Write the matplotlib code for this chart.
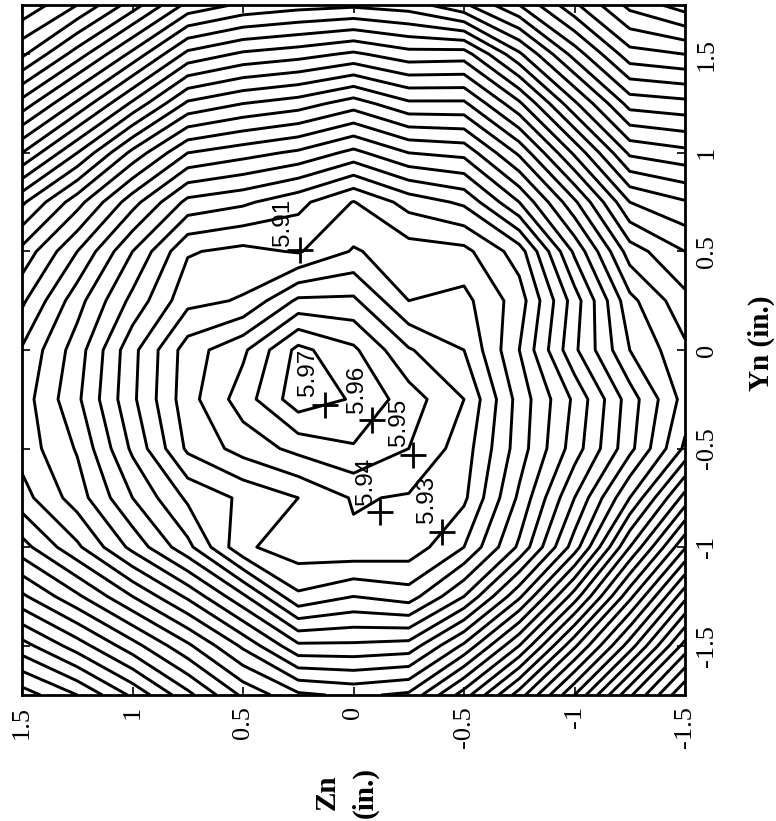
import numpy as np
import matplotlib
matplotlib.use("Agg")
from matplotlib import pyplot as plt

# grid: columns are Zn (left to right), rows are Yn (top to bottom)
zn = [1.5, 1.25, 1.0, 0.75, 0.5, 0.25, 0.0, -0.25, -0.5, -0.75, -1.0, -1.25, -1.5]
yn = [1.75, 1.5, 1.25, 1.0, 0.75, 0.5, 0.25, 0.0, -0.25, -0.5, -0.75, -1.0, -1.25, -1.5, -1.75]

val = [
    [5.662, 5.680, 5.705, 5.733, 5.742, 5.746, 5.748, 5.745, 5.732, 5.710, 5.682, 5.657, 5.645],
    [5.688, 5.715, 5.743, 5.773, 5.782, 5.786, 5.792, 5.784, 5.785, 5.752, 5.716, 5.684, 5.680],
    [5.724, 5.752, 5.782, 5.812, 5.820, 5.825, 5.835, 5.822, 5.822, 5.792, 5.752, 5.716, 5.713],
    [5.760, 5.790, 5.823, 5.850, 5.856, 5.862, 5.873, 5.860, 5.857, 5.828, 5.788, 5.748, 5.743],
    [5.798, 5.826, 5.856, 5.883, 5.888, 5.897, 5.9105, 5.896, 5.888, 5.860, 5.822, 5.780, 5.771],
    [5.823, 5.850, 5.880, 5.909, 5.913, 5.909, 5.921, 5.915, 5.913, 5.895, 5.848, 5.805, 5.790],
    [5.838, 5.866, 5.893, 5.917, 5.921, 5.942, 5.942, 5.920, 5.923, 5.905, 5.865, 5.823, 5.803],
    [5.851, 5.875, 5.907, 5.935, 5.948, 5.973, 5.962, 5.941, 5.930, 5.900, 5.862, 5.830, 5.812],
    [5.855, 5.878, 5.908, 5.936, 5.955, 5.976, 5.969, 5.955, 5.940, 5.906, 5.878, 5.845, 5.816],
    [5.854, 5.871, 5.902, 5.932, 5.944, 5.953, 5.959, 5.950, 5.935, 5.905, 5.875, 5.843, 5.808],
    [5.846, 5.865, 5.890, 5.912, 5.922, 5.930, 5.941, 5.939, 5.932, 5.898, 5.860, 5.820, 5.776],
    [5.826, 5.848, 5.873, 5.897, 5.928, 5.936, 5.938, 5.936, 5.920, 5.888, 5.845, 5.790, 5.741],
    [5.798, 5.818, 5.840, 5.862, 5.888, 5.918, 5.910, 5.915, 5.890, 5.852, 5.805, 5.753, 5.703],
    [5.766, 5.785, 5.806, 5.828, 5.852, 5.878, 5.878, 5.876, 5.848, 5.810, 5.762, 5.715, 5.666],
    [5.735, 5.750, 5.772, 5.797, 5.822, 5.838, 5.842, 5.838, 5.805, 5.765, 5.720, 5.672, 5.630],
]

levels = np.round(np.arange(563, 598) / 100, 2)

# clabel-style labels: text, "+" point (Zn, Yn), text centre (Zn, Yn)
lab_text = ["5.91", "5.97", "5.96", "5.95", "5.94", "5.93"]
lab_plus = [(0.242, 0.507), (0.129, -0.279), (-0.084, -0.355),
            (-0.269, -0.532), (-0.120, -0.822), (-0.401, -0.923)]
lab_pos = [(0.318, 0.645), (0.208, -0.112), (-0.018, -0.198),
           (-0.204, -0.365), (-0.055, -0.668), (-0.331, -0.756)]

ticks = [-1.5, -1.0, -0.5, 0.0, 0.5, 1.0, 1.5]
tick_labels = ["-1.5", "-1", "-0.5", "0", "0.5", "1", "1.5"]

serif = "Liberation Serif"

fig = plt.figure(figsize=(7.76, 8.21), dpi=100)
ax = fig.add_axes([22 / 776, 1 - 695 / 821, 663 / 776, 690 / 821])

ax.contour(zn, yn, np.array(val), levels=levels, colors="k",
           linewidths=2.1, linestyles="solid")

for txt, (px, py), (tx, ty) in zip(lab_text, lab_plus, lab_pos):
    ax.plot(px, py, marker="+", color="k", markersize=19, mew=2.0)
    ax.text(tx, ty, txt, rotation=90, ha="center", va="center",
            fontsize=17.5, family="Liberation Sans")

ax.set_xlim(1.5, -1.5)
ax.set_ylim(-1.75, 1.75)

ax.set_xticks(ticks)
ax.set_xticklabels(tick_labels, rotation=90, family=serif, fontsize=19)
ax.set_yticks(ticks)
ax.set_yticklabels(tick_labels, rotation=90, family=serif, fontsize=19,
                   va="center")
ax.yaxis.tick_right()
ax.tick_params(direction="in", length=6, width=1.2, top=True, bottom=True,
               left=True, right=True, labelleft=False, labelright=True,
               pad=8)
for s in ax.spines.values():
    s.set_linewidth(2.0)

# two-line axis title, drawn as two rotated pieces
fig.text(327 / 776, 1 - 792 / 821, "Zn", rotation=90, ha="center",
         va="center", family=serif, fontweight="bold", fontsize=21)
fig.text(365 / 776, 1 - 792 / 821, "(in.)", rotation=90, ha="center",
         va="center", family=serif, fontweight="bold", fontsize=21)
fig.text(761 / 776, 1 - 343 / 821, "Yn (in.)", rotation=90, ha="center",
         va="center", family=serif, fontweight="bold", fontsize=21)

fig.savefig("out.png", dpi=100)
